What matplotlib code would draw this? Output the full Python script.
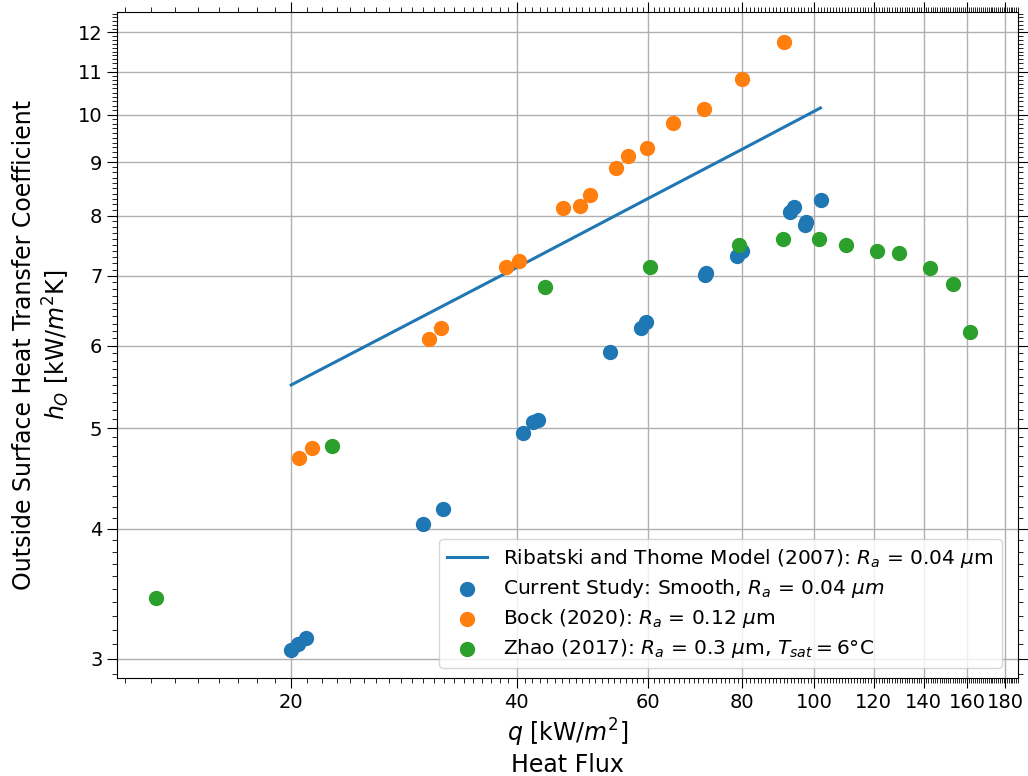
import numpy as np
import matplotlib
matplotlib.use("Agg")
import matplotlib.pyplot as plt
from matplotlib.ticker import FixedLocator, MultipleLocator, ScalarFormatter, NullFormatter

# Ribatski and Thome model line
model_q = [20.0, 40.0, 60.0, 80.0, 101.9]
model_h = [5.50, 7.13, 8.31, 9.26, 10.15]

# current study, smooth tube
smooth_q = [20.0, 20.45, 20.9, 30.0, 31.9, 40.8, 42.1, 42.7, 53.3, 58.7, 59.5,
            71.5, 71.7, 78.8, 80.0, 92.9, 93.9, 97.3, 97.6, 102.2]
smooth_h = [3.06, 3.10, 3.14, 4.04, 4.18, 4.94, 5.07, 5.09, 5.91, 6.24, 6.32,
            7.02, 7.05, 7.31, 7.40, 8.06, 8.15, 7.83, 7.88, 8.28]

# Bock (2020)
bock_q = [20.5, 21.35, 30.6, 31.7, 38.7, 40.3, 46.1, 48.6, 50.1, 54.4, 56.3,
          59.8, 64.8, 71.3, 80.1, 91.0]
bock_h = [4.68, 4.78, 6.09, 6.24, 7.14, 7.24, 8.14, 8.17, 8.37, 8.88, 9.12,
          9.29, 9.82, 10.12, 10.83, 11.74]

# Zhao (2017)
zhao_q = [13.2, 22.7, 43.7, 60.4, 79.2, 90.7, 101.4, 110.3, 121.4, 129.6,
          142.8, 153.2, 161.4]
zhao_h = [3.43, 4.80, 6.83, 7.14, 7.50, 7.59, 7.59, 7.49, 7.40, 7.36,
          7.13, 6.87, 6.18]

x_ticks = [20, 40, 60, 80, 100, 120, 140, 160, 180]
y_ticks = [3, 4, 5, 6, 7, 8, 9, 10, 11, 12]

fig = plt.figure(figsize=(10.28, 7.76), dpi=100)
ax = fig.add_axes([0.1138, 0.1263, 0.8762, 0.8582])

ax.plot(model_q, model_h, color="tab:blue", lw=2.2,
        label=r"Ribatski and Thome Model (2007): $R_a$ = 0.04 $\mu$m")
ax.scatter(smooth_q, smooth_h, s=100, color="tab:blue", zorder=3,
           label=r"Current Study: Smooth, $R_a$ = 0.04 $\mu m$")
ax.scatter(bock_q, bock_h, s=100, color="tab:orange", zorder=3,
           label=r"Bock (2020): $R_a$ = 0.12 $\mu$m")
ax.scatter(zhao_q, zhao_h, s=100, color="tab:green", zorder=3,
           label=r"Zhao (2017): $R_a$ = 0.3 $\mu$m, $T_{sat} = 6\degree$C")

ax.set_xscale("log")
ax.set_yscale("log")
ax.set_xlim(11.7, 187)
ax.set_ylim(2.876, 12.55)

ax.xaxis.set_major_locator(FixedLocator(x_ticks))
ax.xaxis.set_major_formatter(ScalarFormatter())
ax.xaxis.set_minor_locator(MultipleLocator(1))
ax.xaxis.set_minor_formatter(NullFormatter())
ax.yaxis.set_major_locator(FixedLocator(y_ticks))
ax.yaxis.set_major_formatter(ScalarFormatter())
ax.yaxis.set_minor_locator(MultipleLocator(0.1))
ax.yaxis.set_minor_formatter(NullFormatter())
ax.tick_params(which="both", top=True, right=True, labelsize=14)
ax.tick_params(which="major", length=7)
ax.tick_params(which="minor", length=3.5)

ax.grid(True, which="major", color="#b0b0b0", lw=1)
ax.set_axisbelow(True)

ax.set_xlabel("$q$ [kW/$m^2$]\nHeat Flux", fontsize=17)
ax.set_ylabel("Outside Surface Heat Transfer Coefficient\n$h_O$ [kW/$m^2$K]", fontsize=17)

ax.legend(loc="lower right", bbox_to_anchor=(0.982, 0.015), borderaxespad=0,
          fontsize=14.5, labelspacing=0.35)

fig.savefig("out.png", dpi=100)
